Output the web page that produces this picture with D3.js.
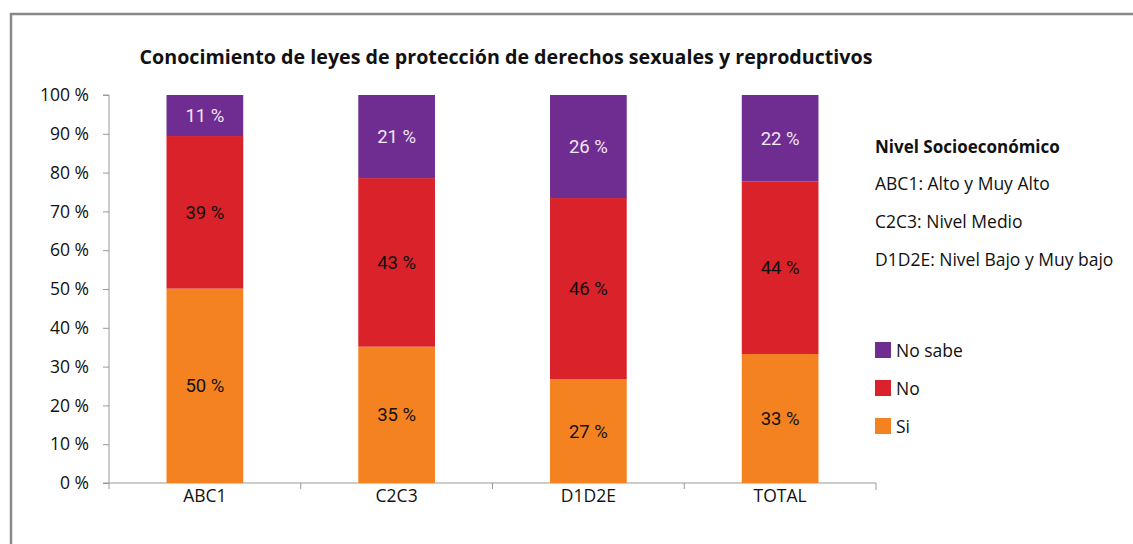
<!DOCTYPE html>
<html><head><meta charset="utf-8">
<script src="https://cdn.jsdelivr.net/npm/d3@7"></script>
<style>body{margin:0;background:#fff}svg{display:block}</style>
</head><body>
<svg id="c" width="1133" height="544"></svg>
<script>
const categories = ["ABC1", "C2C3", "D1D2E", "TOTAL"];
const seriesNames = ["Si", "No", "No sabe"];
const si     = [50.2, 35.1, 26.6, 33.2];
const no     = [39.4, 43.4, 46.4, 44.4];
const noSabe = [10.6, 21.4, 26.4, 22.3];
const yTicks = [0, 10, 20, 30, 40, 50, 60, 70, 80, 90, 100];
const colors = ["#F58220", "#D9222A", "#6F2C91"];
const legendInfo = ["ABC1: Alto y Muy Alto", "C2C3: Nivel Medio", "D1D2E: Nivel Bajo y Muy bajo"];
const title = "Conocimiento de leyes de protección de derechos sexuales y reproductivos";

const svg = d3.select("#c");
const FONT = "'Open Sans', 'Noto Sans', sans-serif";
const LABFONT = "Roboto, Arial, sans-serif";

// frame
svg.append("rect").attr("x", 11).attr("y", 14).attr("width", 1140).attr("height", 560)
  .attr("fill", "none").attr("stroke", "#888").attr("stroke-width", 2.5);

const pLeft = 109, pRight = 876, pTop = 95, pBottom = 483;
const x = d3.scaleBand().domain(categories).range([pLeft, pRight]).padding(0);
const y = d3.scaleLinear().domain([0, 100]).range([pBottom, pTop]);

const rows = categories.map((c, i) => {
  const tot = si[i] + no[i] + noSabe[i];
  return {cat: c, "Si": si[i] / tot * 100, "No": no[i] / tot * 100, "No sabe": noSabe[i] / tot * 100,
          raw: {"Si": si[i], "No": no[i], "No sabe": noSabe[i]}};
});
const stack = d3.stack().keys(seriesNames)(rows);

// title
svg.append("text").attr("x", 506).attr("y", 64).attr("text-anchor", "middle")
  .attr("font-family", FONT).attr("font-weight", "bold").attr("font-size", 19)
  .attr("textLength", 733).attr("lengthAdjust", "spacingAndGlyphs")
  .attr("fill", "#111").text(title);

// y axis
const yAxis = d3.axisLeft(y).tickValues(yTicks).tickFormat(d => d + " %").tickSize(6).tickPadding(14);
const gy = svg.append("g").attr("transform", `translate(${pLeft},0)`).call(yAxis);
gy.select(".domain").attr("stroke", "#999").attr("d", `M-6,${pTop}H0V${pBottom}H-6`);
gy.selectAll(".tick line").attr("stroke", "#999");
gy.selectAll(".tick text").attr("font-family", FONT).attr("font-size", 17.5).attr("fill", "#111");

// x axis
const xAxis = d3.axisBottom(x).tickSize(0).tickPadding(7);
const gx = svg.append("g").attr("transform", `translate(0,${pBottom})`).call(xAxis);
gx.select(".domain").attr("stroke", "#999").attr("d", `M${pLeft},0H${pRight}V7`);
gx.selectAll(".tick text").attr("font-family", FONT).attr("font-size", 17.5).attr("fill", "#111");
gx.selectAll(".bt").data(categories.slice(1)).enter().append("line")
  .attr("x1", d => x(d)).attr("x2", d => x(d)).attr("y1", 0).attr("y2", 6).attr("stroke", "#999");
gx.append("line").attr("x1", pLeft).attr("x2", pLeft).attr("y1", 0).attr("y2", 6).attr("stroke", "#999");

// bars
const bw = x.bandwidth() * 0.40;
const groups = svg.selectAll(".s").data(stack).enter().append("g")
  .attr("fill", (d, i) => colors[i]);
groups.selectAll("rect").data(d => d).enter().append("rect")
  .attr("x", d => x(d.data.cat) + x.bandwidth() / 2 - bw / 2)
  .attr("width", bw)
  .attr("y", d => y(d[1]))
  .attr("height", d => y(d[0]) - y(d[1]));

// labels
stack.forEach((s, k) => {
  svg.selectAll(".l" + k).data(s).enter().append("text")
    .attr("x", d => x(d.data.cat) + x.bandwidth() / 2)
    .attr("y", d => (y(d[0]) + y(d[1])) / 2 + 6.5)
    .attr("text-anchor", "middle")
    .attr("font-family", LABFONT).attr("font-size", 18.5)
    .attr("fill", s.key === "No sabe" ? "#f0e8f4" : "#111")
    .text(d => Math.round(d.data.raw[s.key]) + " %");
});

// legend info
svg.append("text").attr("x", 875).attr("y", 153).attr("font-family", FONT).attr("font-weight", "bold")
  .attr("font-size", 17).attr("fill", "#111").text("Nivel Socioeconómico");
legendInfo.forEach((t, i) => {
  svg.append("text").attr("x", 875).attr("y", 190 + i * 38).attr("font-family", FONT)
    .attr("font-size", 17.5).attr("fill", "#111").text(t);
});

// series legend
const legOrder = ["No sabe", "No", "Si"];
legOrder.forEach((k, i) => {
  const cy = 350 + i * 38;
  svg.append("rect").attr("x", 875).attr("y", cy - 8).attr("width", 16).attr("height", 16)
    .attr("fill", colors[seriesNames.indexOf(k)]);
  svg.append("text").attr("x", 896).attr("y", cy + 6.5).attr("font-family", FONT)
    .attr("font-size", 17.5).attr("fill", "#111").text(k);
});
</script>
</body></html>
